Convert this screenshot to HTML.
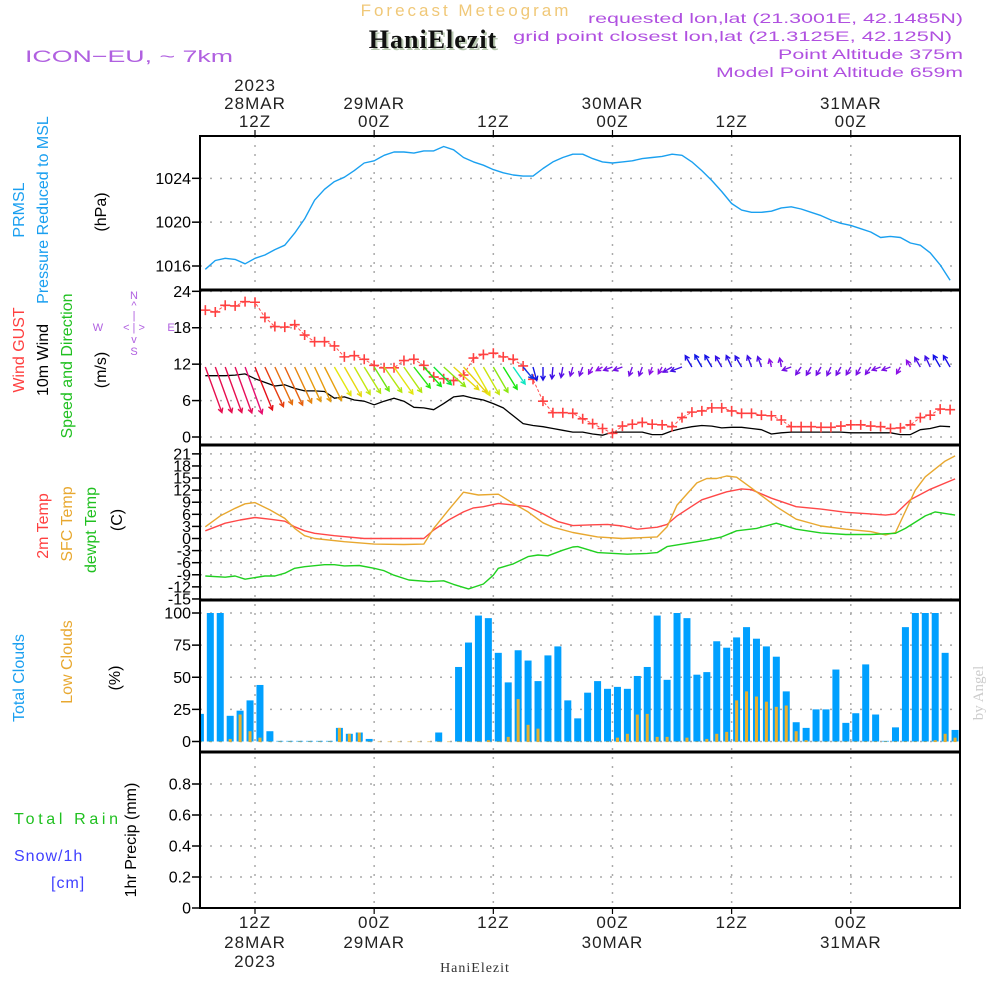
<!DOCTYPE html>
<html><head><meta charset="utf-8"><style>
html,body{margin:0;padding:0;background:#fff;}
svg{display:block;font-family:"Liberation Sans",sans-serif;}
</style></head><body>
<svg id="chart" width="1000" height="1000" viewBox="0 0 1000 1000" xmlns="http://www.w3.org/2000/svg">
<rect x="0" y="0" width="1000" height="1000" fill="#fff"/>
<g id="grid"></g>
<g id="marks"></g>
<g id="frame"></g>
<g id="labels"></g>
<text x="466" y="16" text-anchor="middle" font-size="17" fill="#f0c878" letter-spacing="3">Forecast Meteogram</text>
<text x="435" y="50" text-anchor="middle" font-family="Liberation Serif,serif" font-weight="bold" font-size="26" fill="#b8c8b0" letter-spacing="1">HaniElezit</text>
<text x="433" y="48" text-anchor="middle" font-family="Liberation Serif,serif" font-weight="bold" font-size="26" fill="#111" letter-spacing="1">HaniElezit</text>
<text x="25" y="62" font-size="17" fill="#b060e0" textLength="208" lengthAdjust="spacingAndGlyphs">ICON−EU, ~ 7km</text>
<text x="588" y="23" font-size="14" fill="#b050e0" textLength="375" lengthAdjust="spacingAndGlyphs">requested lon,lat (21.3001E, 42.1485N)</text>
<text x="513" y="41" font-size="14" fill="#b050e0" textLength="439" lengthAdjust="spacingAndGlyphs">grid point closest lon,lat (21.3125E, 42.125N)</text>
<text x="778" y="59" font-size="14" fill="#b050e0" textLength="185" lengthAdjust="spacingAndGlyphs">Point Altitude 375m</text>
<text x="716" y="77" font-size="14" fill="#b050e0" textLength="247" lengthAdjust="spacingAndGlyphs">Model Point Altitude 659m</text>
<text x="475" y="972" text-anchor="middle" font-family="Liberation Serif,serif" font-size="14" fill="#333" letter-spacing="1">HaniElezit</text>
<text transform="translate(983,693) rotate(-90)" text-anchor="middle" font-family="Liberation Serif,serif" font-size="15" fill="#ccc">by Angel</text>
<g font-size="16">
<text transform="translate(24,210) rotate(-90)" text-anchor="middle" fill="#1a9ff0">PRMSL</text>
<text transform="translate(48,210) rotate(-90)" text-anchor="middle" fill="#1a9ff0">Pressure Reduced to MSL</text>
<text transform="translate(106,212) rotate(-90)" text-anchor="middle" fill="#000">(hPa)</text>
<text transform="translate(24,350) rotate(-90)" text-anchor="middle" fill="#ff4040">Wind GUST</text>
<text transform="translate(48,360) rotate(-90)" text-anchor="middle" fill="#000">10m Wind</text>
<text transform="translate(72,366) rotate(-90)" text-anchor="middle" fill="#20c020">Speed and Direction</text>
<text transform="translate(106,370) rotate(-90)" text-anchor="middle" fill="#000">(m/s)</text>
<text transform="translate(48,526) rotate(-90)" text-anchor="middle" fill="#ff4040">2m Temp</text>
<text transform="translate(72,524) rotate(-90)" text-anchor="middle" fill="#e8a830">SFC Temp</text>
<text transform="translate(96,530) rotate(-90)" text-anchor="middle" fill="#20c020">dewpt Temp</text>
<text transform="translate(122,520) rotate(-90)" text-anchor="middle" fill="#000">(C)</text>
<text transform="translate(24,678) rotate(-90)" text-anchor="middle" fill="#1a9ff0">Total Clouds</text>
<text transform="translate(72,662) rotate(-90)" text-anchor="middle" fill="#e8a830">Low Clouds</text>
<text transform="translate(120,678) rotate(-90)" text-anchor="middle" fill="#000">(%)</text>
<text transform="translate(136,840) rotate(-90)" text-anchor="middle" fill="#000">1hr Precip (mm)</text>
<text x="14" y="824" fill="#20c020" textLength="104" lengthAdjust="spacing">Total  Rain</text>
<text x="14" y="861" fill="#4040ff" letter-spacing="1">Snow/1h</text>
<text x="51" y="888" fill="#4040ff" letter-spacing="1">[cm]</text>
</g>
<g font-size="11" fill="#b060e0" text-anchor="middle">
<text x="134" y="299">N</text>
<text x="134" y="309">^</text>
<text x="134" y="319">|</text>
<text x="134" y="331">&lt;  |  &gt;</text>
<text x="98" y="331">W</text>
<text x="171" y="331">E</text>
<text x="134" y="343">v</text>
<text x="134" y="355">S</text>
</g>
</svg>
<script>
// ---------- data ----------
const pressureStartHour = 7;
const pressureValues = [1015.7,1016.5,1016.7,1016.6,1016.2,1016.7,1017.0,1017.5,1017.9,1019.0,1020.3,1022.0,1023.0,1023.7,1024.1,1024.7,1025.4,1025.6,1026.1,1026.4,1026.4,1026.3,1026.5,1026.5,1026.9,1026.6,1025.9,1025.5,1025.2,1024.8,1024.5,1024.3,1024.2,1024.2,1024.9,1025.5,1025.9,1026.2,1026.2,1025.8,1025.5,1025.4,1025.5,1025.6,1025.8,1025.9,1026.0,1026.2,1026.1,1025.5,1024.7,1023.8,1022.8,1021.7,1021.1,1020.9,1020.9,1021.0,1021.3,1021.4,1021.2,1020.9,1020.6,1020.2,1019.9,1019.7,1019.4,1019.1,1018.6,1018.7,1018.6,1018.1,1017.9,1017.2,1016.1,1014.7];
const windStartHour = 7;
const gustValues = [20.9,20.6,21.7,21.6,22.3,22.2,19.7,18.2,18.1,18.5,16.8,15.7,15.7,15.0,13.2,13.4,12.8,11.8,11.4,11.4,12.6,12.8,11.8,9.9,9.6,9.3,10.2,13.0,13.6,13.8,13.2,12.8,11.7,9.5,5.9,4.0,4.0,3.9,3.0,2.2,1.4,0.6,1.8,2.1,2.4,2.1,2.0,1.7,3.2,4.1,4.3,4.8,4.8,4.3,3.9,3.9,3.6,3.5,2.8,1.7,1.7,1.7,1.6,1.6,1.8,2.0,2.0,1.8,1.7,1.4,1.5,2.0,3.2,3.6,4.6,4.5];
const windSpeedValues = [10.1,10.1,10.1,10.2,10.4,9.6,9.0,8.4,8.6,8.0,7.6,7.6,7.5,6.4,6.6,6.1,5.9,5.3,5.9,6.4,5.9,4.9,4.8,4.5,5.5,6.6,6.8,6.4,6.1,5.5,4.8,3.5,2.2,1.9,1.7,1.4,1.1,0.8,0.8,0.5,0.3,0.8,0.8,0.8,0.8,0.4,0.4,1.0,1.4,1.7,1.9,1.8,1.5,1.6,1.6,1.4,1.2,0.5,0.7,0.8,0.8,0.8,0.8,0.8,0.8,0.7,0.7,0.7,0.7,0.7,0.4,0.4,1.2,1.4,1.8,1.7];
const windDirValues = [160,160,160,160,160,158,155,155,155,155,155,155,153,150,150,150,148,148,145,145,145,142,138,135,132,132,138,150,150,150,148,145,140,165,180,185,190,195,200,210,240,250,250,200,200,200,210,240,250,330,330,330,330,335,330,340,340,345,350,250,215,210,210,205,210,210,210,215,250,250,210,330,330,335,330,330];
const t2mHours = [7,9,10.5,12,13.5,15,16,17,18,20,23,25,29,30,31.5,33,34,35,36.5,39.5,41,42.5,44,46,47.5,49,50.5,52.5,53.5,54.5,57,59.5,61,62,64,66.5,69,71.5,74,75.5,76.5,78,80,82.5];
const t2mValues = [1.9,3.8,4.6,5.2,4.8,4.3,2.9,1.9,1.3,0.7,0,0,0,2.1,4.6,6.6,7.6,7.9,8.7,7.9,6.1,4.2,3.2,3.4,3.5,3.1,2.3,2.8,3.5,5.6,9.6,11.6,12.3,12.1,10.0,7.9,7.3,6.5,6.1,5.8,6.1,9.6,12.2,14.8];
const sfcHours = [7,8.5,10,11,12,13.5,15,16,17,18,21,24,27,29,30,31.5,33,34.5,36.5,38,39.5,41,42,44,46.5,49,52.5,53.5,54.5,56.5,57.5,58.5,59.5,60.5,62,64.5,66.5,69,71.5,74,75.5,76.5,78.5,79.5,81.5,82.5];
const sfcValues = [2.9,5.6,7.5,8.6,8.9,7.1,5.0,2.5,0.7,0,-0.8,-1.4,-1.5,-1.4,2.5,7.1,11.5,10.8,11.0,8.7,6.6,3.9,2.8,1.5,0.4,0,0.4,2.9,8.3,13.8,14.9,14.9,15.5,15.2,12.5,7.9,4.8,3.1,2.3,1.7,0.9,1.5,12.0,15.3,19.2,20.5];
const dewHours = [7,9,10,11,13,14,15,16,17,19,20,21,22.5,24,25,26,27.5,29.5,31,32,33.5,35,36,36.5,38,39.5,40.5,41.5,43,44,44.5,46.5,49.5,51.5,52.5,53.5,55.5,57.5,59,60.5,62.5,64.5,66.5,69,71.5,74,76.5,77.5,79.5,80.5,82.5];
const dewValues = [-9.3,-9.6,-9.3,-10.1,-9.3,-9.3,-8.6,-7.4,-7.0,-6.5,-6.5,-6.8,-6.7,-7.4,-8.0,-9.1,-10.3,-10.7,-10.5,-11.4,-12.5,-11.3,-9.1,-7.4,-6.3,-4.5,-4.1,-4.3,-2.9,-2.1,-2.0,-3.5,-3.9,-3.7,-3.5,-2.0,-1.2,-0.4,0.4,1.9,2.5,3.8,2.3,1.4,1.0,1.0,1.3,2.5,5.6,6.6,5.8];
const cloudStartHour = 6.5;
const totalCloudValues = [21.5,100,100,20,24,32,44,8,0.5,0.5,0.5,0.5,0.5,0.5,10.6,6,7,2,0,0,0,0,0,0,7,0,58,77,98,96,69,46,71,63,47,67,74,32,18,38,47,41,42.5,41,51,58,98,48,100,96,52,54,78,73,81,89,80,74,66,39,15,10.6,25,25,56,14.5,22,60,21,0.5,11,89,100,100,100,69,9];
const lowCloudValues = [0,0,0,2,21,8,3,0,0,0,0,0,0,0,10.6,6,7,0,0,0,0,0,0,0,0,0,0,0,0,1,0,3.6,33,13,10,0,0,0,0,0,0,0,3,6,21,21.5,3.6,3.6,0,3,0,2,6,7.5,32,39,35,31,27,28,8,1,0,0,0,0,0,0,0,0,0,0,0,0,1,6,3];
const precipValues = [];
const pressureTicks = [1016,1020,1024];
const windTicks = [0,6,12,18,24];
const tempTicks = [21,18,15,12,9,6,3,0,-3,-6,-9,-12,-15];
const cloudTicks = [0,25,50,75,100];
const precipTicks = [0,0.2,0.4,0.6,0.8];
const timeTickHours = [12,24,36,48,60,72];
const timeTickHour = ["12Z","00Z","12Z","00Z","12Z","00Z"];
const timeTickDate = ["28MAR","29MAR","","30MAR","","31MAR"];
const timeTickYear = ["2023","","","","",""];

const X0=200, X1=960;
function x(t){ return 255 + (t-12)*9.93; }
function yP(p){ return 266 - (p-1016)*10.96; }
function yW(v){ return 437 - v*6.07; }
function yT(c){ return 538.5 - c*4.03; }
function yC(c){ return 741.5 - c*1.285; }
function yR(m){ return 908 - m*155; }

const NS='http://www.w3.org/2000/svg';
function mk(parent,tag,attrs){ const e=document.createElementNS(NS,tag); for(const k in attrs) e.setAttribute(k,attrs[k]); parent.appendChild(e); return e; }
const grid=document.getElementById('grid'), marks=document.getElementById('marks'), frame=document.getElementById('frame'), labels=document.getElementById('labels');

function hgrid(vals,fn,name){
  vals.forEach(v=>{ const g=mk(grid,'line',{x1:X0,x2:X1,y1:fn(v),y2:fn(v),stroke:'#aaa','stroke-width':1.5,'stroke-dasharray':'2,8'});
    
     });
}
hgrid(pressureTicks,yP,'pressure'); hgrid(windTicks,yW,'wind'); hgrid(tempTicks,yT,'temp'); hgrid(cloudTicks,yC,'cloud'); hgrid(precipTicks,yR,'precip');
timeTickHours.forEach(h=>{ const g=mk(grid,'line',{x1:x(h),x2:x(h),y1:136,y2:908,stroke:'#aaa','stroke-width':1.5,'stroke-dasharray':'2,7'});
  
   });

function line(hours,vals,fx,fy,color,w,name,dash){
  const pts=vals.map((v,i)=>fx(hours(i)).toFixed(1)+','+fy(v).toFixed(1)).join(' ');
  const a={points:pts,fill:'none',stroke:color,'stroke-width':w,'stroke-linejoin':'round'};
  if(dash) a['stroke-dasharray']=dash;
  const p=mk(marks,'polyline',a);
  
  
}

line(i=>pressureStartHour+i,pressureValues,x,yP,'#1aa0f0',1.4,'pressure-line');

totalCloudValues.forEach((v,i)=>{ const t=cloudStartHour+i; const xl=Math.max(X0,x(t)-3.5); const xr=Math.min(X1,x(t)+3.5);
  const r=mk(marks,'rect',{x:xl,y:yC(v),width:Math.max(0,xr-xl),height:yC(0)-yC(v),fill:'#00a0ff'});
  
   });
lowCloudValues.forEach((v,i)=>{ const t=cloudStartHour+i; const xl=Math.max(X0,x(t)-1.5); const xr=Math.min(X1,x(t)+1.5);
  const r=mk(marks,'rect',{x:xl,y:yC(v),width:Math.max(0,xr-xl),height:yC(0)-yC(v)+0.6,fill:'#e8b030'});
  
   });

line(i=>t2mHours[i],t2mValues,x,yT,'#ff4848',1.4,'temp-2m-line');
line(i=>sfcHours[i],sfcValues,x,yT,'#e8a830',1.4,'temp-sfc-line');
line(i=>dewHours[i],dewValues,x,yT,'#20d020',1.4,'dewpoint-line');

line(i=>windStartHour+i,windSpeedValues,x,yW,'#000',1.3,'wind-speed-line');
line(i=>windStartHour+i,gustValues,x,yW,'#ff5050',1,'gust-line','3,2');
gustValues.forEach((v,i)=>{ const cx=x(windStartHour+i), cy=yW(v);
  const g=mk(marks,'path',{d:'M'+(cx-5)+','+cy+'H'+(cx+5)+'M'+cx+','+(cy-5)+'V'+(cy+5),stroke:'#ff4040','stroke-width':1.6,fill:'none'});
  
   });

const hueS=[0.5,1.5,2.5,3.5,4.5,5.5,6.5,7.5,8.5,9.5,10.5], hueH=[275,250,220,170,130,85,58,40,25,0,330];
function hueFor(s){ if(s<=hueS[0]) return hueH[0]; for(let k=1;k<hueS.length;k++){ if(s<=hueS[k]){ const f=(s-hueS[k-1])/(hueS[k]-hueS[k-1]); let a=hueH[k-1], b=hueH[k]; if(b-a>180) b-=360; if(a-b>180) b+=360; return ((a+(b-a)*f)+360)%360; } } return hueH[hueH.length-1]; }
windDirValues.forEach((d,i)=>{ const s=windSpeedValues[i]; const L=6+4.2*s; const a=d*Math.PI/180;
  const x0=x(windStartHour+i), y0=367; const dx=Math.sin(a), dy=-Math.cos(a);
  const x1=x0+dx*L, y1=y0+dy*L; const h=5;
  const ang=Math.atan2(dy,dx);
  const ax=x1-h*Math.cos(ang-0.5), ay=y1-h*Math.sin(ang-0.5), bx=x1-h*Math.cos(ang+0.5), by=y1-h*Math.sin(ang+0.5);
  const col='hsl('+hueFor(s).toFixed(0)+',88%,48%)';
  const g=mk(marks,'path',{d:'M'+x0.toFixed(1)+','+y0+'L'+x1.toFixed(1)+','+y1.toFixed(1)+'M'+ax.toFixed(1)+','+ay.toFixed(1)+'L'+x1.toFixed(1)+','+y1.toFixed(1)+'L'+bx.toFixed(1)+','+by.toFixed(1),stroke:col,'stroke-width':1.4,fill:'none'});
  
   });

const fr=mk(frame,'rect',{x:X0,y:136,width:X1-X0,height:772,fill:'none',stroke:'#000','stroke-width':2});


[290,445,600,752].forEach(y=>{ const l=mk(frame,'line',{x1:X0-1,x2:X1+1,y1:y,y2:y,stroke:'#000','stroke-width':3});
  
   });

function ylabels(vals,fn,name,fmt,fs){
  vals.forEach(v=>{ const y=fn(v);
    mk(frame,'line',{x1:X0-8,x2:X0,y1:y,y2:y,stroke:'#000','stroke-width':1.5});
    const t=mk(labels,'text',{x:X0-9,y:y+5.5,'text-anchor':'end','font-size':fs||16,fill:'#000'});
    t.textContent=fmt?fmt(v):String(v);
    
     });
}
ylabels(pressureTicks,yP,'pressure');
ylabels(windTicks,yW,'wind');
ylabels(tempTicks,yT,'temp',null,16);
ylabels(cloudTicks,yC,'cloud');
ylabels(precipTicks,yR,'precip',v=>v===0?'0':v.toFixed(1));

timeTickHours.forEach((h,i)=>{ const xx=x(h);
  mk(frame,'line',{x1:xx,x2:xx,y1:130,y2:136,stroke:'#000','stroke-width':1.2});
  mk(frame,'line',{x1:xx,x2:xx,y1:908,y2:914,stroke:'#000','stroke-width':1.2});
  const rows=[[timeTickYear[i],91],[timeTickDate[i],109],[timeTickHour[i],127]];
  rows.forEach(r=>{ if(!r[0]) return; const t=mk(labels,'text',{x:xx,y:r[1],'text-anchor':'middle','font-size':17,fill:'#222','letter-spacing':1});
    t.textContent=r[0];
    
     });
  const rowsB=[[timeTickHour[i],928],[timeTickDate[i],948],[timeTickYear[i],967]];
  rowsB.forEach(r=>{ if(!r[0]) return; const t=mk(labels,'text',{x:xx,y:r[1],'text-anchor':'middle','font-size':17,fill:'#222','letter-spacing':1});
    t.textContent=r[0];
    
     });
});
</script>
</body></html>
